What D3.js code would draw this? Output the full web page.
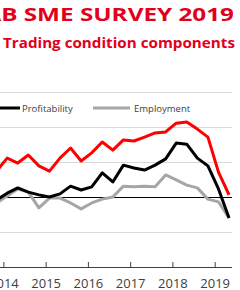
<!DOCTYPE html>
<meta charset="utf-8">
<script src="https://d3js.org/d3.v7.min.js"></script>
<style>
  body { margin: 0; background: white; }
  svg { display: block; }
</style>
<div id="chart"></div>
<script>

  // quarterly observations (2013Q4 .. 2019Q2)
  const quarters = ["2013Q4",
    "2014Q1","2014Q2","2014Q3","2014Q4",
    "2015Q1","2015Q2","2015Q3","2015Q4",
    "2016Q1","2016Q2","2016Q3","2016Q4",
    "2017Q1","2017Q2","2017Q3","2017Q4",
    "2018Q1","2018Q2","2018Q3","2018Q4",
    "2019Q1","2019Q2"];

  const trading = [7.4, 11.1, 9.7, 12.0, 8.9, 7.4, 11.1, 14.0, 10.3, 12.6, 15.7, 13.4,
    16.3, 16.0, 17.1, 18.3, 18.6, 21.1, 21.4, 19.4, 17.1, 7.1, 0.6];
  const profitability = [-0.9, 1.1, 2.6, 1.4, 0.6, 0, 0.9, 3.1, 2.0, 2.9, 6.9, 4.3,
    9.1, 8.3, 7.7, 9.1, 10.9, 15.4, 15.1, 11.1, 8.9, 2.3, -6.0];
  const employment = [-1.7, 0.3, 2.3, 1.4, -3.1, -0.3, -0.3, -1.7, -3.4, -1.7, -0.6, 0,
    3.1, 2.9, 3.1, 2.9, 6.3, 4.9, 3.4, 2.6, -0.6, -1.4, -6.0];

  const years = [2014, 2015, 2016, 2017, 2018, 2019];
  const gridValues = [30, 20, 10, -10];

  const width = 240, height = 290;

  const svg = d3.select("#chart")
    .append("svg")
      .attr("width", width)
      .attr("height", height);

  // quarter label -> decimal year
  const toYear = q => +q.slice(0, 4) + (+q.slice(5) - 1) * 0.25 + 0.09;

  const x = d3.scaleLinear()
    .domain([2013.92, 2019.41])
    .range([0, 232]);

  const y = d3.scaleLinear()
    .domain([-20, 30])
    .range([267, 92]);

  // horizontal stretch needed so the text spans the given width
  function stretch(str, font, target) {
    const probe = svg.append("text").style("font", font).text(str);
    const w = probe.node().getComputedTextLength();
    probe.remove();
    return target / w;
  }

  // titles (title is cropped at the left edge, only "B SME..." shows)
  const titleFont = "bold 17.5px 'Open Sans'";
  const sx1 = stretch("B SME SURVEY 2019", titleFont, 233);
  svg.append("text")
    .attr("transform", `translate(234,20.6) scale(${sx1},1)`)
    .attr("text-anchor", "end")
    .style("font", titleFont)
    .style("fill", "#e2001a")
    .text("NAB SME SURVEY 2019");

  const subFont = "bold 14px 'Open Sans'";
  const sx2 = stretch("Trading condition components", subFont, 232);
  svg.append("text")
    .attr("transform", `translate(3,48.3) scale(${sx2},1)`)
    .style("font", subFont)
    .style("fill", "#e2001a")
    .text("Trading condition components");

  // grid
  svg.append("g")
    .selectAll("line")
    .data(gridValues)
    .join("line")
      .attr("x1", 0)
      .attr("x2", 232)
      .attr("y1", d => y(d) + 0.5)
      .attr("y2", d => y(d) + 0.5)
      .style("stroke", "#d9d9d9")
      .style("stroke-width", 1);

  // zero line
  svg.append("line")
    .attr("x1", 0)
    .attr("x2", 232)
    .attr("y1", y(0) + 0.5)
    .attr("y2", y(0) + 0.5)
    .style("stroke", "black")
    .style("stroke-width", 1);

  // x axis
  const xAxis = svg.append("g")
    .attr("transform", `translate(0,${y(-20)})`)
    .call(d3.axisBottom(x).tickValues(years).tickFormat(d3.format("d"))
      .tickSize(-5).tickPadding(0));
  xAxis.select(".domain").attr("d", "M0,0.5H232").style("stroke", "#404040");
  xAxis.selectAll(".tick line").style("stroke", "#404040");
  xAxis.selectAll(".tick text")
    .attr("y", 21)
    .attr("dy", null)
    .style("font", "13px 'Open Sans'")
    .style("fill", "#404040");

  // lines
  const line = d3.line()
    .x((d, i) => x(toYear(quarters[i])))
    .y(d => y(d));

  const series = [
    {values: employment, color: "#a6a6a6"},
    {values: profitability, color: "black"},
    {values: trading, color: "#ff0000"}
  ];

  svg.append("g")
    .selectAll("path")
    .data(series)
    .join("path")
      .attr("d", d => line(d.values))
      .style("fill", "none")
      .style("stroke", d => d.color)
      .style("stroke-width", 3)
      .style("stroke-linejoin", "round");

  // legend
  const legend = [
    {name: "Profitability", color: "black", x1: -17, x2: 20, tx: 22},
    {name: "Employment", color: "#a6a6a6", x1: 93, x2: 130, tx: 134}
  ];
  const lg = svg.append("g");
  lg.selectAll("line")
    .data(legend)
    .join("line")
      .attr("x1", d => d.x1)
      .attr("x2", d => d.x2)
      .attr("y1", 108)
      .attr("y2", 108)
      .style("stroke", d => d.color)
      .style("stroke-width", 3);
  lg.selectAll("text")
    .data(legend)
    .join("text")
      .attr("x", d => d.tx)
      .attr("y", 111.5)
      .style("font", "9.5px 'Open Sans'")
      .style("fill", "#404040")
      .text(d => d.name);

</script>
